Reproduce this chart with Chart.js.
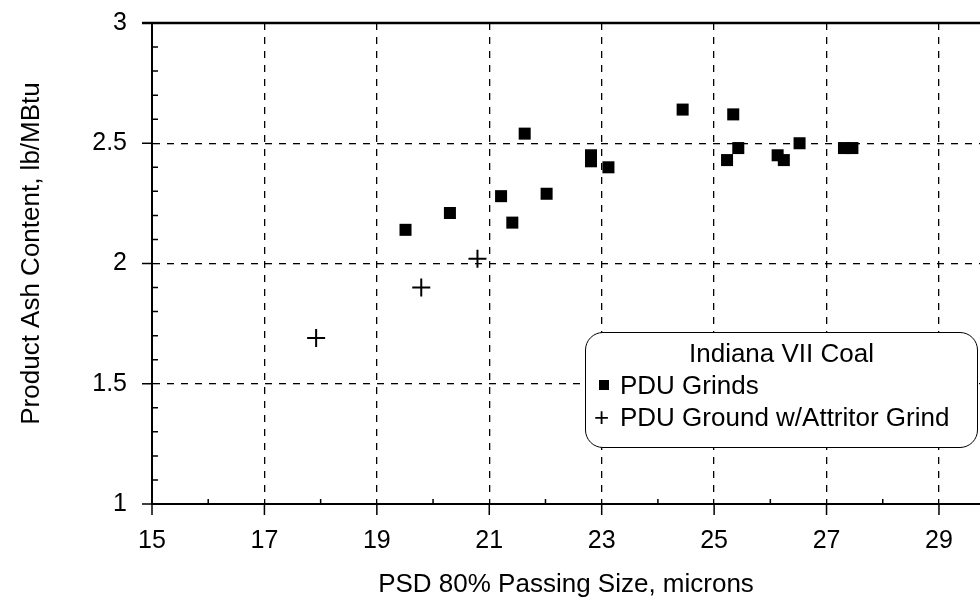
<!DOCTYPE html>
<html>
<head>
<meta charset="utf-8">
<script src="https://cdn.jsdelivr.net/npm/chart.js@4.4.0/dist/chart.umd.min.js"></script>
<style>
html, body { margin: 0; padding: 0; background: #fff; overflow: hidden; }
#wrap { position: relative; width: 980px; height: 606px; overflow: hidden; }
#legend {
  position: absolute; left: 585px; top: 332px; width: 393px; height: 116px;
  box-sizing: border-box; border: 1.5px solid #000; border-radius: 18px; background: #fff;
  font-family: "Liberation Sans", Arial, sans-serif; font-size: 26px; color: #000;
}
#legend div { position: absolute; height: 30px; line-height: 30px; white-space: nowrap; }
#legend .sq { position: absolute; left: 13px; top: 10px; width: 10px; height: 10px; background: #000; }
#legend .cr { position: absolute; left: 8px; top: 0; }
</style>
</head>
<body>
<div id="wrap">
  <canvas id="chart" width="980" height="606"></canvas>
  <div id="legend">
    <div style="left:0;width:100%;text-align:center;top:5px">Indiana VII Coal</div>
    <div style="left:0;top:37px"><span class="sq"></span><span style="margin-left:34px">PDU Grinds</span></div>
    <div style="left:0;top:69px"><span class="cr">+</span><span style="margin-left:34px">PDU Ground w/Attritor Grind</span></div>
  </div>
</div>
<script>
// tick labels
let xTicks = [15, 17, 19, 21, 23, 25, 27, 29];
let yTicks = [1, 1.5, 2, 2.5, 3];

// PDU Grinds
let grindX = [19.51, 20.30, 21.21, 21.41, 21.63, 22.02, 22.81, 22.81, 23.12, 24.44, 25.23, 25.34, 25.43, 26.13, 26.24, 26.52, 27.31, 27.46];
let grindY = [2.14, 2.21, 2.28, 2.17, 2.54, 2.29, 2.45, 2.425, 2.40, 2.64, 2.43, 2.62, 2.48, 2.45, 2.43, 2.50, 2.48, 2.48];

// PDU Ground w/Attritor Grind
let attrX = [17.92, 19.79, 20.79];
let attrY = [1.69, 1.90, 2.02];

const FONT = "'Liberation Sans', Arial, sans-serif";
const Y_TITLE = "Product Ash Content, lb/MBtu";

function pts(xs, ys){
  return xs.map((x, i) => ({x: x, y: ys[i]}));
}

/* tick marks, solid top frame line, y title */
const axisMarks = {
  id: "axisMarks",
  afterDraw(chart){
    const ctx = chart.ctx, a = chart.chartArea;
    const sx = chart.scales.x, sy = chart.scales.y;
    ctx.save();
    ctx.strokeStyle = "#000";
    ctx.setLineDash([]);

    ctx.lineWidth = 2.5;
    ctx.beginPath();
    ctx.moveTo(a.left - 10, a.top);
    ctx.lineTo(a.right, a.top);
    ctx.stroke();

    ctx.lineWidth = 1.5;
    ctx.beginPath();
    yTicks.forEach(v => {
      let p = sy.getPixelForValue(v);
      ctx.moveTo(a.left - 10, p);
      ctx.lineTo(a.left, p);
    });
    for(let v = 1.1; v < 3; v += 0.1){
      if(Math.abs(v * 2 - Math.round(v * 2)) < 0.01) continue;
      let p = sy.getPixelForValue(v);
      ctx.moveTo(a.left, p);
      ctx.lineTo(a.left + 6, p);
    }
    xTicks.forEach(v => {
      let p = sx.getPixelForValue(v);
      ctx.moveTo(p, a.bottom);
      ctx.lineTo(p, a.bottom + 11);
    });
    for(let v = 16; v < 30; v += 2){
      let p = sx.getPixelForValue(v);
      ctx.moveTo(p, a.bottom);
      ctx.lineTo(p, a.bottom - 5);
    }
    ctx.stroke();

    // y axis title, a bit above the plot centre like the scan
    ctx.translate(32, (a.top + a.bottom) / 2 - 10);
    ctx.rotate(-Math.PI / 2);
    ctx.fillStyle = "#000";
    ctx.font = "26px " + FONT;
    ctx.textAlign = "center";
    ctx.textBaseline = "middle";
    ctx.fillText(Y_TITLE, 0, 0);
    ctx.restore();
  }
};

new Chart(document.getElementById("chart"), {
  type: "scatter",
  data: {
    datasets: [{
      label: "PDU Grinds",
      data: pts(grindX, grindY),
      pointStyle: "rect",
      pointRadius: 8.5,
      borderWidth: 0,
      backgroundColor: "#000",
      borderColor: "#000"
    }, {
      label: "PDU Ground w/Attritor Grind",
      data: pts(attrX, attrY),
      pointStyle: "cross",
      pointRadius: 9,
      borderWidth: 2,
      borderColor: "#000",
      backgroundColor: "#000"
    }]
  },
  options: {
    responsive: false,
    animation: false,
    layout: { autoPadding: false, padding: { left: 0, top: 23, right: 0, bottom: 0 } },
    plugins: { legend: { display: false }, tooltip: { enabled: false } },
    scales: {
      x: {
        type: "linear",
        min: 15,
        max: 29.73,
        afterBuildTicks: s => { s.ticks = xTicks.map(v => ({value: v})); },
        afterFit: s => { s.height = 102; s.paddingLeft = 0; s.paddingRight = 0; },
        ticks: { color: "#000", font: { family: FONT, size: 25 }, padding: 22, maxRotation: 0, autoSkip: false },
        grid: { color: "#000", lineWidth: 1.3, drawTicks: false },
        border: { display: true, color: "#000", width: 2, dash: [7, 7] },
        title: {
          display: true,
          text: "PSD 80% Passing Size, microns",
          color: "#000",
          font: { family: FONT, size: 26 },
          padding: { top: 0, bottom: 6 }
        }
      },
      y: {
        min: 1,
        max: 3,
        afterBuildTicks: s => { s.ticks = yTicks.map(v => ({value: v})); },
        afterFit: s => { s.width = 152; s.paddingTop = 0; s.paddingBottom = 0; },
        ticks: { color: "#000", font: { family: FONT, size: 25 }, padding: 25, callback: v => String(v) },
        grid: { color: "#000", lineWidth: 1.3, drawTicks: false },
        border: { display: true, color: "#000", width: 2, dash: [7, 7] },
        title: { display: false }
      }
    }
  },
  plugins: [axisMarks]
});
</script>
</body>
</html>
